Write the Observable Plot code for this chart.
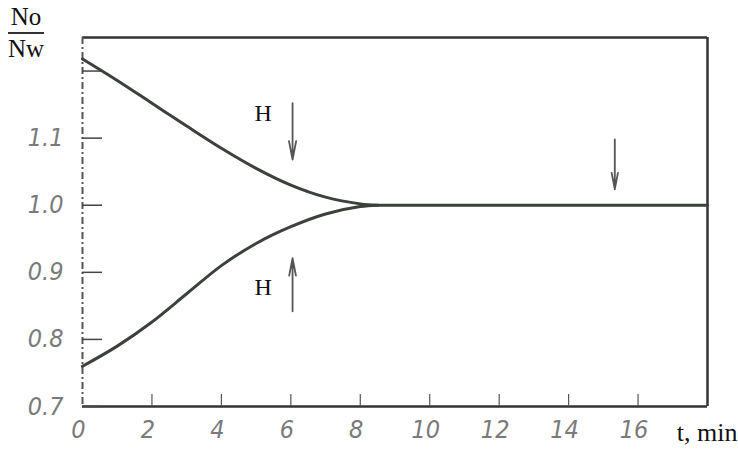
<!DOCTYPE html>
<html><head><meta charset="utf-8">
<script src="https://cdn.jsdelivr.net/npm/d3@7"></script>
<script src="https://cdn.jsdelivr.net/npm/@observablehq/plot@0.6"></script>
<style>
body{margin:0;background:#fff}
#wrap{position:relative;width:738px;height:455px}
.frac{position:absolute;left:8px;top:4px;font-family:"Liberation Serif","DejaVu Serif",serif;font-size:25px;color:#111;text-align:center;line-height:1}
.frac .num{display:block;padding:0 1px 3px 1px;border-bottom:2px solid #333}
.frac .den{display:block;padding-top:2px}
g[aria-label="y-axis tick label"] text, g[aria-label="x-axis tick label"] text{font-stretch:condensed}
</style></head><body><div id="wrap"><div class="frac"><span class="num">No</span><span class="den">Nw</span></div></div>
<script>
// Upper curve (approach from above)
const tUpper = [0, 1, 2, 3, 4, 5, 6, 7, 8, 8.5];
const vUpper = [1.218, 1.186, 1.152, 1.118, 1.085, 1.055, 1.030, 1.012, 1.002, 1.0];
// Lower curve (approach from below)
const tLower = [0, 1, 2, 3, 4, 5, 6, 7, 8, 8.5];
const vLower = [0.760, 0.790, 0.826, 0.868, 0.910, 0.943, 0.968, 0.987, 0.998, 1.0];
// Common plateau
const tFlat = [8.5, 18];
const vFlat = [1.0, 1.0];

const xTicks = [0, 2, 4, 6, 8, 10, 12, 14, 16];
const yTicks = [0.7, 0.8, 0.9, 1.0, 1.1, 1.2];
const yLabelTicks = [0.7, 0.8, 0.9, 1.0, 1.1];
const xDomain = [0, 18];
const yDomain = [0.7, 1.25];

// Annotations: arrows and labels
const arrowX = [6.05, 6.05, 15.33];
const arrowY1 = [1.152, 0.842, 1.098];
const arrowY2 = [1.068, 0.921, 1.024];
const hLabelX = [5.2, 5.2];
const hLabelY = [1.137, 0.878];
const hLabels = ["H", "H"];

const upper = tUpper.map((t, i) => ({t, v: vUpper[i]}));
const lower = tLower.map((t, i) => ({t, v: vLower[i]}));
const flat = tFlat.map((t, i) => ({t, v: vFlat[i]}));
const arrows = arrowX.map((x, i) => ({x, y1: arrowY1[i], y2: arrowY2[i]}));
const hs = hLabels.map((s, i) => ({s, x: hLabelX[i], y: hLabelY[i]}));

const tickFont = {fontFamily: '"DejaVu Sans",sans-serif', fontStyle: "italic", fontSize: 25, fill: "#7a7a7a"};
const serif = '"Liberation Serif","DejaVu Serif",serif';

const chart = Plot.plot({
  width: 738, height: 455,
  marginLeft: 82, marginRight: 31, marginTop: 37, marginBottom: 49,
  x: {domain: xDomain},
  y: {domain: yDomain},
  marks: [
    // frame
    Plot.ruleY([yDomain[1]], {stroke: "#333", strokeWidth: 2.5}),
    Plot.ruleY([yDomain[0]], {stroke: "#333", strokeWidth: 2.5}),
    Plot.ruleX([xDomain[1]], {stroke: "#333", strokeWidth: 2.5}),
    Plot.ruleX([xDomain[0]], {stroke: "#555", strokeWidth: 2, strokeDasharray: "7,3,2,3"}),
    // inward ticks
    Plot.axisY({ticks: yTicks, tickSize: 20, dx: 20, text: null, stroke: "#444", strokeWidth: 1.5}),
    Plot.axisX({ticks: xTicks.slice(1), tickSize: 12, dy: -12, text: null, stroke: "#555", strokeWidth: 1.2}),
    // tick labels
    Plot.axisY({ticks: yLabelTicks, tickSize: 0, tickPadding: 19, tickFormat: d3.format(".1f"), label: null, ...tickFont}),
    Plot.axisX({ticks: xTicks, tickSize: 0, tickPadding: 14, tickFormat: d => String(d), label: null, dx: -4, ...tickFont}),
    // curves
    Plot.line(upper, {x: "t", y: "v", curve: "catmull-rom", stroke: "#3b413b", strokeWidth: 3}),
    Plot.line(lower, {x: "t", y: "v", curve: "catmull-rom", stroke: "#3b413b", strokeWidth: 3}),
    Plot.line(flat, {x: "t", y: "v", stroke: "#3b413b", strokeWidth: 3}),
    // arrows
    Plot.arrow(arrows, {x: "x", y1: "y1", y2: "y2", stroke: "#555", strokeWidth: 1.8, headLength: 16, headAngle: 22}),
    Plot.text(hs, {x: "x", y: "y", text: "s", fontFamily: serif, fontSize: 24, fill: "#111"}),
    // x label
    Plot.text(["t, min"], {frameAnchor: "bottom-right", dx: 30, dy: 34, textAnchor: "end", fontFamily: serif, fontSize: 26, fill: "#111"})
  ]
});
document.getElementById("wrap").appendChild(chart);
</script>
</body></html>
